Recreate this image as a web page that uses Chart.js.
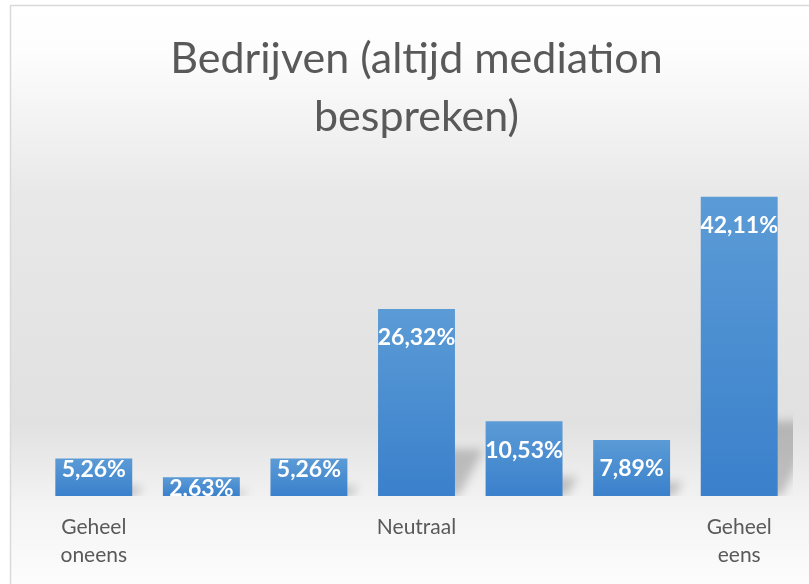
<!DOCTYPE html>
<html>
<head>
<meta charset="utf-8">
<script src="https://cdn.jsdelivr.net/npm/chart.js@4.4.0/dist/chart.umd.min.js"></script>
<style>
  body { margin: 0; background: #fff; }
  #wrap { width: 809px; height: 584px; }
</style>
</head>
<body>
<div id="wrap"><canvas id="chart"></canvas></div>
<script>
const titleLines = ['Bedrijven (altijd mediation', 'bespreken)'];
const categories = [['Geheel', 'oneens'], '', '', 'Neutraal', '', '', ['Geheel', 'eens']];
const percentages = [5.26, 2.63, 5.26, 26.32, 10.53, 7.89, 42.11];
const yMax = 45;

function fmtPct(v) {
  return v.toFixed(2).replace('.', ',') + '%';
}

// achtergrond met verloop en rand
const backgroundPlugin = {
  id: 'background',
  beforeDraw(chart) {
    const ctx = chart.ctx;
    const w = chart.width, h = chart.height;
    ctx.save();
    ctx.fillStyle = '#ffffff';
    ctx.fillRect(0, 0, w, h);
    const g = ctx.createLinearGradient(0, 5, 0, h);
    g.addColorStop(0, '#ffffff');
    g.addColorStop(0.08, '#fdfdfd');
    g.addColorStop(0.33, '#e8e8e8');
    g.addColorStop(0.72, '#e1e1e1');
    g.addColorStop(0.87, '#f4f4f4');
    g.addColorStop(1, '#fcfcfc');
    ctx.fillStyle = g;
    ctx.fillRect(10, 5, w, h);
    ctx.strokeStyle = '#d9d9d9';
    ctx.lineWidth = 1.5;
    ctx.strokeRect(10.5, 5.5, w + 10, h + 10);
    ctx.restore();
  }
};

// schaduw achter de staven
const shadowPlugin = {
  id: 'barShadow',
  beforeDatasetsDraw(chart) {
    const ctx = chart.ctx;
    const area = chart.chartArea;
    const meta = chart.getDatasetMeta(0);
    ctx.save();
    ctx.beginPath();
    ctx.rect(area.left, area.top, area.right - area.left, area.bottom - area.top);
    ctx.clip();
    ctx.filter = 'blur(5px)';
    ctx.fillStyle = 'rgba(0,0,0,0.2)';
    meta.data.forEach(bar => {
      const h = bar.base - bar.y;
      const left = bar.x - bar.width / 2;
      const right = bar.x + bar.width / 2;
      const rise = h * 0.25;
      const dx = h * 0.12 + 6;
      ctx.beginPath();
      ctx.moveTo(left + 4, bar.base);
      ctx.lineTo(right + 4, bar.base);
      ctx.lineTo(right + dx, bar.base - rise);
      ctx.lineTo(left + dx, bar.base - rise);
      ctx.closePath();
      ctx.fill();
    });
    ctx.restore();
  }
};

// waardelabels in de staven
const labelPlugin = {
  id: 'barLabels',
  afterDatasetsDraw(chart) {
    const ctx = chart.ctx;
    const area = chart.chartArea;
    const meta = chart.getDatasetMeta(0);
    ctx.save();
    ctx.beginPath();
    ctx.rect(area.left, 0, area.right - area.left, area.bottom);
    ctx.clip();
    ctx.font = 'bold 23px Lato';
    ctx.fillStyle = '#ffffff';
    ctx.textAlign = 'center';
    ctx.textBaseline = 'middle';
    meta.data.forEach((bar, i) => {
      const h = bar.base - bar.y;
      const cy = h > 45 ? bar.y + 29 : bar.y + 11;
      ctx.fillText(fmtPct(percentages[i]), bar.x, cy);
    });
    ctx.restore();
  }
};

const chart = new Chart(document.getElementById('chart'), {
  type: 'bar',
  data: {
    labels: categories,
    datasets: [{
      data: percentages,
      barPercentage: 0.715,
      categoryPercentage: 1,
      backgroundColor: function (context) {
        const c = context.chart;
        if (!c.chartArea || context.type !== 'data') return '#4a8fd1';
        const y = c.scales.y;
        const top = y.getPixelForValue(context.raw);
        const base = y.getPixelForValue(0);
        const g = c.ctx.createLinearGradient(0, top, 0, base);
        g.addColorStop(0, '#5b9bd6');
        g.addColorStop(1, '#3a80cb');
        return g;
      }
    }]
  },
  options: {
    responsive: true,
    maintainAspectRatio: false,
    animation: false,
    layout: { padding: { left: 40, right: 16, top: 0, bottom: 14 } },
    plugins: {
      legend: { display: false },
      tooltip: { enabled: false },
      title: {
        display: true,
        text: titleLines,
        color: '#595959',
        font: { family: 'Lato', size: 43, weight: 'normal', lineHeight: 1.35 },
        padding: { top: 30, bottom: 30 }
      }
    },
    scales: {
      x: {
        grid: { display: false, drawTicks: false },
        border: { display: false },
        afterFit(scale) { scale.height = 74; },
        ticks: {
          color: '#595959',
          font: { family: 'Lato', size: 21, lineHeight: 1.35 },
          padding: 17,
          maxRotation: 0,
          autoSkip: false
        }
      },
      y: { display: false, min: 0, max: yMax }
    }
  },
  plugins: [backgroundPlugin, shadowPlugin, labelPlugin]
});
</script>
</body>
</html>
